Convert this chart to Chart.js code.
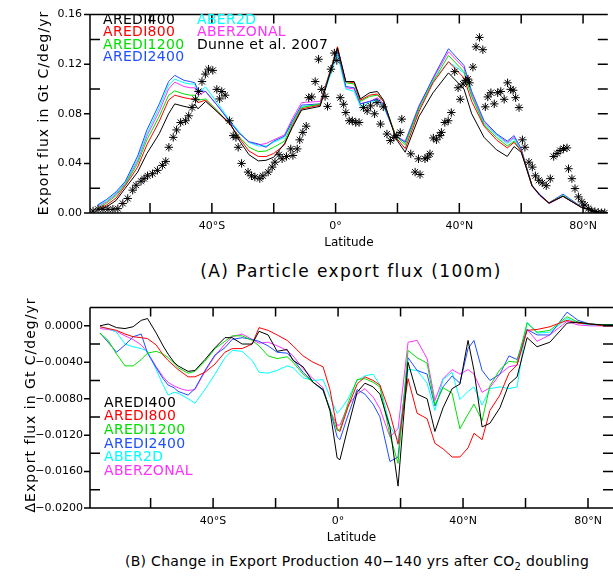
<!DOCTYPE html>
<html>
<head>
<meta charset="utf-8">
<script src="https://cdn.jsdelivr.net/npm/chart.js@4.4.0/dist/chart.umd.min.js"></script>
<style>
  body { margin: 0; background: #fff; width: 613px; height: 577px; overflow: hidden; position: relative;
         font-family: "DejaVu Sans", sans-serif; color: #000; }
  .box { position: absolute; left: 0; width: 613px; }
  #boxA { top: 0; height: 250px; }
  #boxB { top: 294px; height: 251px; }
  .ytitle { position: absolute; white-space: nowrap; font-size: 14px; letter-spacing: 1px;
            transform: translate(-50%, -50%) rotate(-90deg); }
  .caption { position: absolute; white-space: nowrap; transform: translateX(-50%); }
</style>
</head>
<body>
<div class="box" id="boxA"><canvas id="chartA"></canvas></div>
<div class="box" id="boxB"><canvas id="chartB"></canvas></div>
<div class="ytitle" style="left:43px; top:113px;">Export flux in Gt C/deg/yr</div>
<div class="ytitle" style="left:30px; top:405px;">&Delta;Export flux in Gt C/deg/yr</div>
<div class="caption" style="left:351px; top:261px; font-size:17px; letter-spacing:1.4px;">(A) Particle export flux (100m)</div>
<div class="caption" style="left:357px; top:553px; font-size:14px; letter-spacing:0.3px;">(B) Change in Export Production 40&minus;140 yrs after CO<sub style="font-size:10px;">2</sub> doubling</div>
<script>
// panel A: particle export flux at 100m
const latA = [-77, -74, -71, -68, -64, -61, -57, -54, -52, -49, -47, -45.5, -44.5, -42, -38, -34, -31, -28, -25, -22.5,
  -20, -16.5, -14, -11, -5, 0.6, 3.3, 6, 8, 11, 13.5, 15.5, 19.5, 22.5, 27, 31.5, 36.5, 41.5, 44, 48,
  52, 55.5, 57.7, 60, 63.5, 66, 69, 73.5, 79.5, 85, 88];
const fluxAredi400 = [0.0024, 0.005, 0.010, 0.020, 0.033, 0.048, 0.064, 0.080, 0.088, 0.086, 0.085, 0.0877, 0.084, 0.090, 0.081, 0.072, 0.058, 0.047, 0.042, 0.0425,
  0.045, 0.056, 0.069, 0.083, 0.086, 0.133, 0.106, 0.106, 0.092, 0.097, 0.098, 0.091, 0.060, 0.049, 0.078, 0.097, 0.113, 0.100, 0.080, 0.061,
  0.051, 0.0456, 0.0536, 0.049, 0.022, 0.0145, 0.008, 0.0135, 0.0045, 0.0005, 0];
const fluxAredi800 = [0.003, 0.0065, 0.012, 0.022, 0.037, 0.055, 0.074, 0.091, 0.095, 0.093, 0.092, 0.092, 0.089, 0.091, 0.081, 0.071, 0.060, 0.050, 0.0456, 0.0455,
  0.048, 0.055, 0.070, 0.084, 0.087, 0.134, 0.106, 0.105, 0.091, 0.095, 0.096, 0.090, 0.061, 0.052, 0.082, 0.105, 0.122, 0.109, 0.090, 0.070,
  0.059, 0.0525, 0.057, 0.050, 0.022, 0.0145, 0.008, 0.0135, 0.0045, 0.0005, 0];
const fluxAredi1200 = [0.004, 0.008, 0.014, 0.023, 0.040, 0.059, 0.078, 0.095, 0.0985, 0.096, 0.095, 0.095, 0.091, 0.092, 0.082, 0.071, 0.061, 0.053, 0.0495, 0.050,
  0.053, 0.058, 0.072, 0.085, 0.088, 0.134, 0.105, 0.104, 0.090, 0.094, 0.095, 0.090, 0.062, 0.055, 0.084, 0.106, 0.127, 0.114, 0.094, 0.071,
  0.061, 0.054, 0.058, 0.050, 0.022, 0.0145, 0.008, 0.014, 0.0045, 0.0005, 0];
const fluxAredi2400 = [0.0064, 0.011, 0.017, 0.0255, 0.046, 0.067, 0.088, 0.106, 0.111, 0.107, 0.106, 0.105, 0.099, 0.098, 0.086, 0.073, 0.064, 0.0575, 0.0557, 0.053,
  0.058, 0.062, 0.074, 0.087, 0.088, 0.131, 0.102, 0.101, 0.088, 0.090, 0.092, 0.087, 0.062, 0.057, 0.086, 0.109, 0.1325, 0.119, 0.098, 0.0744,
  0.064, 0.058, 0.0624, 0.052, 0.0224, 0.015, 0.0083, 0.0152, 0.005, 0.0005, 0];
const fluxAber2d = [0.006, 0.010, 0.016, 0.0245, 0.044, 0.064, 0.085, 0.103, 0.108, 0.105, 0.104, 0.104, 0.097, 0.1016, 0.088, 0.074, 0.065, 0.057, 0.054, 0.054,
  0.057, 0.061, 0.073, 0.086, 0.087, 0.128, 0.100, 0.098, 0.086, 0.089, 0.091, 0.086, 0.062, 0.057, 0.086, 0.107, 0.122, 0.113, 0.094, 0.072,
  0.063, 0.056, 0.060, 0.050, 0.022, 0.0145, 0.008, 0.014, 0.0045, 0.0005, 0];
const fluxAberzonal = [0.005, 0.009, 0.015, 0.024, 0.042, 0.062, 0.082, 0.100, 0.1056, 0.102, 0.101, 0.101, 0.095, 0.098, 0.086, 0.073, 0.064, 0.057, 0.055, 0.056,
  0.059, 0.063, 0.076, 0.089, 0.090, 0.132, 0.101, 0.100, 0.088, 0.090, 0.093, 0.088, 0.062, 0.058, 0.087, 0.108, 0.130, 0.117, 0.096, 0.073,
  0.063, 0.057, 0.061, 0.051, 0.0215, 0.014, 0.0075, 0.0135, 0.0045, 0.0005, 0];

// Dunne et al. 2007 observations (asterisks)
const dunneLat = [-78.4, -76.8, -75.2, -73.6, -72.0, -70.4, -68.8, -67.2, -65.6, -64.5,
  -62.9, -61.9, -60.8, -59.2, -57.6, -56.0, -54.9, -53.9, -52.5, -51.4,
  -50.1, -48.5, -47.5, -46.4, -45.3, -44.3, -43.2, -42.1, -41.1, -39.7,
  -38.4, -37.5, -36.8, -35.7, -34.3, -33.1, -32.2, -31.5, -30.4, -28.3,
  -27.2, -26.1, -24.5, -23.5, -21.8, -20.5, -19.6, -18.3, -17.3, -15.9,
  -14.5, -13.8, -12.4, -11.6, -10.6, -9.5, -8.7, -7.7, -6.6, -5.5,
  -4.5, -3.4, -2.6, -1.5, -0.4, 0.4, 1.5, 2.6, 3.3, 4.4,
  5.4, 6.5, 7.6, 9.0, 10.2, 11.3, 12.6, 13.4, 14.5, 15.4,
  16.6, 17.7, 18.8, 19.8, 20.9, 21.4, 24.3, 25.7, 26.8, 27.3,
  28.9, 29.7, 30.5, 31.6, 32.6, 33.7, 34.2, 35.3, 36.4, 37.4,
  38.5, 39.6, 40.3, 41.2, 42.0, 42.8, 43.3, 44.4, 45.4, 46.5,
  47.6, 48.4, 49.2, 50.2, 51.3, 52.4, 53.4, 54.5, 55.6, 56.6,
  57.4, 58.2, 59.3, 60.4, 61.2, 62.5, 63.6, 64.6, 65.7, 66.8,
  68.1, 69.4, 70.5, 71.6, 72.6, 73.7, 74.8, 75.3, 76.4, 77.4,
  78.5, 79.6, 80.6, 81.7, 82.8, 83.8, 84.9, 86.0, 87.0];
const dunneFlux = [0.0016, 0.003, 0.003, 0.003, 0.003, 0.0035, 0.0077, 0.0117, 0.0184, 0.0224,
  0.0256, 0.0277, 0.030, 0.0317, 0.0344, 0.0384, 0.0416, 0.053, 0.061, 0.067,
  0.073, 0.0744, 0.0784, 0.085, 0.0917, 0.098, 0.106, 0.112, 0.116, 0.115,
  0.0997, 0.092, 0.098, 0.095, 0.0744, 0.0624, 0.061, 0.053, 0.040, 0.033,
  0.030, 0.029, 0.0277, 0.030, 0.033, 0.037, 0.041, 0.047, 0.0437, 0.0456,
  0.0517, 0.0464, 0.0517, 0.059, 0.065, 0.070, 0.093, 0.0936, 0.106, 0.124,
  0.0997, 0.094, 0.086, 0.116, 0.129, 0.123, 0.093, 0.0877, 0.081, 0.0744,
  0.0744, 0.073, 0.073, 0.085, 0.0824, 0.0864, 0.080, 0.089, 0.0717, 0.0856,
  0.0637, 0.0584, 0.061, 0.0624, 0.065, 0.0757, 0.0477, 0.033, 0.0437, 0.031,
  0.0437, 0.045, 0.0477, 0.0605, 0.059, 0.0624, 0.065, 0.073, 0.0744, 0.081,
  0.114, 0.101, 0.0917, 0.104, 0.107, 0.108, 0.105, 0.1176, 0.134, 0.1416,
  0.1317, 0.0856, 0.0936, 0.097, 0.088, 0.097, 0.098, 0.0917, 0.105, 0.0997,
  0.099, 0.093, 0.085, 0.059, 0.053, 0.041, 0.037, 0.030, 0.0264, 0.0243,
  0.022, 0.0277, 0.0456, 0.048, 0.0504, 0.052, 0.0525, 0.0357, 0.0277, 0.0197,
  0.013, 0.009, 0.0064, 0.0037, 0.0018, 0.001, 0.0005, 0.0002, 0.0002];

// panel B: change in export production 40-140 yrs after CO2 doubling
const latB = [-76.2, -73.6, -70.9, -68.2, -65.6, -63.0, -61.0, -58.2, -56.0, -54.4,
  -52.5, -51.2, -49.6, -48.0, -45.8, -42.6, -39.4, -36.2, -33.9, -30.7,
  -27.5, -25.3, -22.4, -19.5, -16.3, -14.4, -11.2, -8.0, -4.8, -2.6,
  -0.3, 0.6, 3.2, 6.1, 8.6, 11.2, 13.4, 16.6, 19.2, 22.4,
  25.3, 28.5, 31.0, 33.6, 36.5, 39.0, 41.6, 43.5, 46.1, 48.6,
  51.8, 54.7, 57.3, 60.5, 63.7, 67.8, 73.3, 76.8, 80.6, 84.8, 88.0];
const dAredi400 = [0, 0.0002, -0.0002, -0.0003, -0.0001, 0.0006, 0.0008, -0.0008, -0.0022, -0.0031,
  -0.0040, -0.0044, -0.0047, -0.0050, -0.0049, -0.0037, -0.0024, -0.0013, -0.0013, -0.0020,
  -0.0020, -0.0006, -0.0010, -0.0028, -0.0026, -0.0038, -0.0045, -0.0062, -0.0070, -0.0093,
  -0.0145, -0.0147, -0.0111, -0.0073, -0.0063, -0.0067, -0.0075, -0.0111, -0.0176, -0.0040,
  -0.0075, -0.0080, -0.0116, -0.0090, -0.0069, -0.0064, -0.0016, -0.0049, -0.0111, -0.0107,
  -0.0090, -0.0064, -0.0056, -0.0013, -0.0023, -0.0018, 0.0003, 0.0004, 0.0002, 0.0001, 0.0001];
const dAredi800 = [-0.0001, -0.0003, -0.0005, -0.0009, -0.0012, -0.0013, -0.0014, -0.0021, -0.0032, -0.0038,
  -0.0044, -0.0048, -0.0052, -0.0056, -0.0056, -0.0051, -0.0042, -0.0029, -0.0025, -0.0025,
  -0.0020, -0.0002, -0.0005, -0.0010, -0.0016, -0.0022, -0.0033, -0.0040, -0.0045, -0.0070,
  -0.0113, -0.0116, -0.0089, -0.0064, -0.0056, -0.0060, -0.0065, -0.0096, -0.0130, -0.0058,
  -0.0096, -0.0102, -0.0129, -0.0135, -0.0144, -0.0144, -0.0134, -0.0118, -0.0125, -0.0093,
  -0.0076, -0.0052, -0.0043, -0.0005, -0.0004, -0.0001, 0.0006, 0.0003, 0.0002, 0, 0];
const dAredi1200 = [-0.0008, -0.0016, -0.0031, -0.0044, -0.0044, -0.0037, -0.0030, -0.0028, -0.0031, -0.0035,
  -0.0041, -0.0046, -0.0049, -0.0052, -0.0050, -0.0039, -0.0025, -0.0017, -0.0011, -0.0011,
  -0.0016, -0.0022, -0.0033, -0.0036, -0.0034, -0.0040, -0.0053, -0.0062, -0.0070, -0.0092,
  -0.0115, -0.0114, -0.0085, -0.0059, -0.0058, -0.0062, -0.0067, -0.0120, -0.0151, -0.0027,
  -0.0035, -0.0041, -0.0087, -0.0068, -0.0074, -0.0113, -0.0097, -0.0086, -0.0104, -0.0066,
  -0.0048, -0.0039, -0.0040, 0.0003, -0.0007, -0.0005, 0.0010, 0.0004, 0.0002, 0.0001, 0.0001];
const dAredi2400 = [-0.0008, -0.0018, -0.0029, -0.0021, -0.0012, -0.0009, -0.0030, -0.0046, -0.0058, -0.0065,
  -0.0068, -0.0072, -0.0074, -0.0076, -0.0069, -0.0049, -0.0032, -0.0024, -0.0015, -0.0013,
  -0.0015, -0.0017, -0.0022, -0.0029, -0.0030, -0.0037, -0.0051, -0.0062, -0.0071, -0.0091,
  -0.0122, -0.0125, -0.0098, -0.0070, -0.0075, -0.0086, -0.0100, -0.0149, -0.0144, -0.0035,
  -0.0049, -0.0053, -0.0088, -0.0067, -0.0055, -0.0063, -0.0025, -0.0016, -0.0049, -0.0060,
  -0.0053, -0.0033, -0.0037, -0.0004, -0.0010, -0.0010, 0.0015, 0.0006, 0.0002, 0.0001, 0.0001];
const dAber2d = [-0.0001, -0.0003, -0.0007, -0.0020, -0.0023, -0.0025, -0.0028, -0.0048, -0.0065, -0.0076,
  -0.0073, -0.0074, -0.0077, -0.0080, -0.0085, -0.0070, -0.0053, -0.0035, -0.0027, -0.0028,
  -0.0038, -0.0051, -0.0052, -0.0049, -0.0044, -0.0046, -0.0057, -0.0060, -0.0059, -0.0078,
  -0.0096, -0.0093, -0.0080, -0.0060, -0.0055, -0.0053, -0.0065, -0.0110, -0.0125, -0.0048,
  -0.0049, -0.0063, -0.0093, -0.0059, -0.0051, -0.0081, -0.0072, -0.0067, -0.0087, -0.0069,
  -0.0067, -0.0069, -0.0067, 0.0004, -0.0008, -0.0007, 0.0008, 0.0003, 0.0001, 0.0001, 0.0001];
const dAberzonal = [-0.0003, -0.0004, -0.0006, -0.0011, -0.0015, -0.0021, -0.0029, -0.0045, -0.0056, -0.0062,
  -0.0066, -0.0068, -0.0070, -0.0071, -0.0070, -0.0050, -0.0033, -0.0020, -0.0012, -0.0009,
  -0.0015, -0.0019, -0.0018, -0.0022, -0.0027, -0.0033, -0.0047, -0.0058, -0.0068, -0.0093,
  -0.0109, -0.0109, -0.0087, -0.0075, -0.0069, -0.0078, -0.0091, -0.0122, -0.0113, -0.0018,
  -0.0016, -0.0036, -0.0082, -0.0058, -0.0048, -0.0053, -0.0048, -0.0053, -0.0073, -0.0068,
  -0.0053, -0.0045, -0.0043, -0.0004, -0.0017, -0.0010, 0.0005, 0.0001, 0, 0, 0];

// axis ticks
const latTicks = [-40, 0, 40, 80];
const fluxTicks = [0, 0.04, 0.08, 0.12, 0.16];
const dfluxTicks = [0, -0.004, -0.008, -0.012, -0.016, -0.020];

const FONT = '"DejaVu Sans", sans-serif';
const runs = [
  { name: 'AREDI400', color: '#000000', a: fluxAredi400, b: dAredi400 },
  { name: 'AREDI800', color: '#ff0000', a: fluxAredi800, b: dAredi800 },
  { name: 'AREDI1200', color: '#00e000', a: fluxAredi1200, b: dAredi1200 },
  { name: 'AREDI2400', color: '#1f4fff', a: fluxAredi2400, b: dAredi2400 },
  { name: 'ABER2D', color: '#00ffff', a: fluxAber2d, b: dAber2d },
  { name: 'ABERZONAL', color: '#ff33ff', a: fluxAberzonal, b: dAberzonal }
];

function latLabel(v) {
  if (v < 0) return (-v) + '°S';
  if (v > 0) return v + '°N';
  return '0°';
}

// frame with inward ticks + text legend
const framePlugin = {
  id: 'frame',
  afterDatasetsDraw(chart, args, opts) {
    const { ctx, chartArea: a } = chart;
    const x = chart.scales.x, y = chart.scales.y;
    ctx.save();
    ctx.strokeStyle = '#000';
    ctx.lineWidth = 1.5;
    ctx.beginPath();
    ctx.moveTo(a.left, a.top); ctx.lineTo(a.left, a.bottom); ctx.lineTo(a.right, a.bottom);
    ctx.moveTo(a.left, a.top); ctx.lineTo(a.right, a.top);
    opts.xTicks.forEach(v => {
      const px = x.getPixelForValue(v);
      ctx.moveTo(px, a.bottom); ctx.lineTo(px, a.bottom - 10);
      ctx.moveTo(px, a.top); ctx.lineTo(px, a.top + 9);
    });
    opts.yTicks.forEach((v, i) => {
      const py = y.getPixelForValue(v);
      if (i % 2 === 0) { ctx.moveTo(a.left - 6, py); ctx.lineTo(a.left, py); }
      else { ctx.moveTo(a.left, py); ctx.lineTo(a.left + 10, py); }
      ctx.moveTo(a.right, py); ctx.lineTo(a.right - 10, py);
    });
    ctx.stroke();
    ctx.font = '14px ' + FONT;
    ctx.letterSpacing = '0.3px';
    ctx.textBaseline = 'middle';
    ctx.textAlign = 'left';
    opts.legend.forEach(e => {
      ctx.fillStyle = e.color;
      ctx.fillText(e.text, e.x, e.y);
    });
    ctx.restore();
  }
};

function lineSets(key) {
  const lat = key === 'a' ? latA : latB;
  return runs.map(r => ({
    label: r.name,
    data: lat.map((v, i) => ({ x: v, y: r[key][i] })),
    borderColor: r.color,
    borderWidth: 1,
    pointRadius: 0,
    tension: 0,
    order: 1
  }));
}

function baseScales(yMin, yMax, yTicks, yFmt, yPad) {
  return {
    x: {
      type: 'linear', min: -79.4, max: 88,
      grid: { display: false, drawTicks: false }, border: { display: false },
      afterBuildTicks: s => { s.ticks = latTicks.map(v => ({ value: v })); },
      afterFit: s => { s.height = 37; },
      ticks: { padding: 7, color: '#000', font: { family: FONT, size: 11 }, maxRotation: 0, autoSkip: false,
               callback: v => latLabel(v) },
      title: { display: true, text: 'Latitude', color: '#000', font: { family: FONT, size: 12 }, padding: 0 }
    },
    y: {
      min: yMin, max: yMax,
      grid: { display: false, drawTicks: false }, border: { display: false },
      afterBuildTicks: s => { s.ticks = yTicks.map(v => ({ value: v })); },
      afterFit: s => { s.width = 90; },
      ticks: { padding: yPad, color: '#000', font: { family: FONT, size: 11 }, autoSkip: false, callback: yFmt }
    }
  };
}

const minorA = [0, 0.02, 0.04, 0.06, 0.08, 0.10, 0.12, 0.14, 0.16];
const minorB = [0, -0.002, -0.004, -0.006, -0.008, -0.010, -0.012, -0.014, -0.016, -0.018, -0.020];
const xMinor = [-60, -40, -20, 0, 20, 40, 60, 80];

const legendA = [
  { text: 'AREDI400', color: runs[0].color, x: 103, y: 20 },
  { text: 'AREDI800', color: runs[1].color, x: 103, y: 32.5 },
  { text: 'AREDI1200', color: runs[2].color, x: 103, y: 45 },
  { text: 'AREDI2400', color: runs[3].color, x: 103, y: 57.5 },
  { text: 'ABER2D', color: runs[4].color, x: 197, y: 20 },
  { text: 'ABERZONAL', color: runs[5].color, x: 197, y: 32.5 },
  { text: 'Dunne et al. 2007', color: '#000', x: 197, y: 45 }
];
const legendB = runs.map((r, i) => ({ text: r.name, color: r.color, x: 104, y: 109 + i * 13.7 }));

new Chart(document.getElementById('chartA'), {
  type: 'line',
  data: {
    datasets: [{
      label: 'Dunne et al. 2007',
      data: dunneLat.map((v, i) => ({ x: v, y: dunneFlux[i] })),
      showLine: false,
      pointStyle: 'star',
      pointRadius: 4.2,
      borderColor: '#000',
      borderWidth: 1,
      order: 0
    }].concat(lineSets('a'))
  },
  options: {
    responsive: true, maintainAspectRatio: false, animation: false,
    layout: { padding: { top: 13, right: 0, bottom: 0, left: 0 } },
    plugins: {
      legend: { display: false }, tooltip: { enabled: false },
      frame: { xTicks: xMinor, yTicks: minorA, legend: legendA }
    },
    scales: baseScales(0, 0.16, fluxTicks, v => v.toFixed(2), 8)
  },
  plugins: [framePlugin]
});

new Chart(document.getElementById('chartB'), {
  type: 'line',
  data: { datasets: lineSets('b') },
  options: {
    responsive: true, maintainAspectRatio: false, animation: false,
    layout: { padding: { top: 13, right: 0, bottom: 0, left: 0 } },
    plugins: {
      legend: { display: false }, tooltip: { enabled: false },
      frame: { xTicks: xMinor, yTicks: minorB, legend: legendB }
    },
    scales: baseScales(-0.02, 0.002, dfluxTicks,
      v => (Math.abs(v) < 1e-9 ? '0.0000' : v.toFixed(4).replace('-', '\u2212')), 7)
  },
  plugins: [framePlugin]
});
</script>
</body>
</html>
